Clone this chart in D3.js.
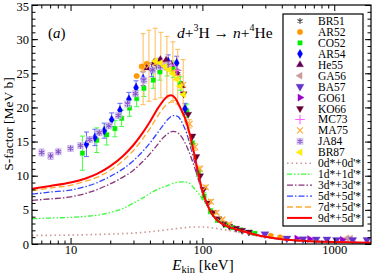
<!DOCTYPE html>
<html><head><meta charset="utf-8">
<script src="https://cdn.jsdelivr.net/npm/d3@7"></script>
<style>body{margin:0;background:#fff}svg{display:block}text{font-family:"Liberation Serif","Times New Roman",serif}</style>
</head><body><svg id="c" width="374" height="276"></svg>
<script>
// ---- data ----
const xMajor = [10, 100, 1000];
const xMinor = [6,7,8,9,20,30,40,50,60,70,80,90,200,300,400,500,600,700,800,900];
const yMajor = [0,5,10,15,20,25,30,35];

// experimental sets: [E keV, S MeV b, err]
const BR51 = [[45,26.0,0],[55,26.4,0],[65,25.3,0]];
const AR52 = [[31.7,24.6,0],[34.6,26.0,0],[37.8,26.4,0],[330,1.2,0],[388,0.98,0]];
const CO52 = [[12.3,13.3,2.5],[15.8,15.2,1.8],[18.8,16.0,1.5],[21.7,16.9,1.2],[24.4,18.4,1.2],[28,19.9,1.2],[31.7,21.3,1.2],[36,22.8,1.2],[42.4,24.0,1.2],[47.6,25.2,1.2],[54,25.8,1.2],[60,25.6,1.2],[68,23.5,1.0],[76,19.5,1.0],[84,14.8,0.8],[93,10.5,0.6],[103,7.0,0.5],[115,4.8,0.4],[130,3.5,0.3],[150,2.8,0.3],[170,2.4,0.2],[195,2.05,0.2],[230,1.7,0.2],[250,1.55,0.2]];
const AR54 = [[13.2,14.6,1.8],[15.3,15.6,1.2],[18.0,16.6,1.1],[20.5,18.2,1.0],[23.7,19.6,1.0],[27.7,21.2,1.0],[31.4,22.9,1.0],[35.5,24.2,1.0],[41.2,25.5,1.0],[47.6,26.2,1.0],[55,26.7,1.0],[63.8,26.5,1.0],[73.8,19.8,0.8]];
const He55 = [[38,25.8,0],[43,26.6,0],[48,27.0,0],[53,26.9,0],[58,26.3,0],[64,25.0,0],[70,23.2,0]];
const GA56 = [[1250,0.85,0],[1330,0.8,0]];
const BA57 = [[298,1.46,0],[437,0.83,0],[580,0.73,0],[730,0.7,0],[880,0.7,0],[1040,0.62,0],[1380,0.6,0],[1770,0.6,0]];
const GO61 = [[520,0.8,0],[650,0.72,0],[1150,0.62,0]];
const KO66 = [[72,22.0,0],[78,19.0,0],[84,15.8,0],[90,12.8,0],[96,10.0,0],[102,8.0,0],[110,6.0,0],[120,4.6,0],[132,3.7,0],[145,3.0,0],[160,2.6,0],[180,2.3,0],[200,2.0,0],[225,1.75,0]];
const MC73 = [[50,26.4,0],[57,26.2,0],[64,25.4,0]];
const MA75 = [[35.5,25.6,5.2],[39.3,26.1,5.2],[43.8,26.4,5.2],[48.4,26.2,4.8],[53.8,25.9,4.5],[59.7,25.3,4.3],[65.0,24.5,4.0],[71.5,23.3,3.7],[80,17.6,0.6],[88,14.2,0.5],[96,11.0,0.4],[106,8.3,0.3],[116,6.2,0.3],[128,4.6,0.2],[142,3.6,0.2],[160,2.9,0.2]];
const JA84 = [[6.04,13.4,0.5],[7.06,12.9,0.5],[8.07,13.5,0.4],[10.0,14.0,0.4],[11.9,14.4,0.4],[14.0,15.3,0.4],[16.5,16.3,0.4],[19.5,17.3,0.4],[23,18.8,0.4],[27,20.5,0.4],[31,22.0,0.4],[36,24.0,0.4],[42,25.5,0.4],[48,26.0,0.4],[55,26.2,0.4]];
const BR87 = [[44,26.8,0],[48,26.5,0],[52,26.0,0],[56,25.5,0],[60,24.9,0],[64,24.1,0],[68,23.1,0],[72,21.9,0]];

// theory curves: [E, S]
const c00 = [[5.1,1.25],[7,1.27],[10,1.3],[15,1.38],[20,1.45],[30,1.6],[40,1.8],[50,2.0],[60,2.2],[70,2.35],[85,2.5],[100,2.5],[120,2.35],[145,2.1],[180,1.8],[220,1.45],[260,1.15],[300,1.0],[400,0.7],[600,0.45],[1000,0.3],[1900,0.18]];
const c11 = [[5.1,3.7],[7,3.8],[10,3.9],[14,4.1],[17,4.3],[20,4.6],[25,5.2],[30,6.0],[35,6.7],[40,7.4],[47,8.1],[55,8.6],[63,9.0],[71,9.1],[78,9.0],[86,8.2],[95,7.2],[105,6.0],[114,5.0],[125,4.0],[135,3.4],[150,2.85],[170,2.45],[200,1.95],[250,1.4],[300,1.05],[400,0.7],[600,0.45],[1000,0.3],[1900,0.18]];
const c33 = [[5.1,6.4],[7,6.6],[10,6.9],[13,7.4],[17,8.2],[20,8.8],[25,9.8],[30,10.8],[35,12.0],[40,13.2],[45,14.4],[50,15.5],[55,16.2],[60,16.5],[65,16.3],[70,15.6],[76,14.3],[82,12.7],[88,11.0],[94,9.2],[100,7.5],[110,5.5],[120,4.2],[140,3.0],[165,2.4],[200,1.9],[250,1.4],[300,1.05],[400,0.7],[600,0.45],[1000,0.3],[1900,0.18]];
const c55 = [[5.1,7.3],[7,7.6],[10,7.9],[13,8.4],[16,9.0],[20,9.9],[25,11.0],[30,12.2],[35,13.5],[40,14.8],[45,16.1],[50,17.3],[55,18.3],[60,18.8],[65,18.7],[70,17.8],[76,16.2],[82,14.0],[88,11.7],[94,9.5],[100,7.6],[110,5.5],[120,4.2],[140,3.0],[165,2.4],[200,1.9],[250,1.4],[300,1.05],[400,0.7],[600,0.45],[1000,0.3],[1900,0.18]];
const c75 = [[5.1,7.8],[7,8.2],[10,8.6],[13,9.2],[16,9.8],[20,10.8],[25,12.2],[30,13.7],[35,15.3],[40,16.9],[45,18.5],[50,19.8],[55,20.6],[60,20.8],[65,20.5],[70,19.2],[76,17.2],[82,14.6],[88,12.0],[94,9.6],[100,7.6],[110,5.5],[120,4.2],[140,3.0],[165,2.4],[200,1.9],[250,1.4],[300,1.05],[400,0.7],[600,0.45],[1000,0.3],[1900,0.18]];
const c95 = [[5.1,8.1],[7,8.5],[10,9.0],[13,9.6],[16,10.3],[20,11.4],[25,12.9],[30,14.5],[35,16.2],[40,17.9],[45,19.6],[50,20.9],[55,21.7],[58,21.8],[62,21.4],[67,20.2],[74,18.4],[80,16.2],[86,13.5],[92,10.8],[100,7.8],[110,5.6],[120,4.2],[140,3.0],[165,2.4],[200,1.9],[250,1.4],[300,1.05],[400,0.7],[600,0.45],[1000,0.3],[1900,0.18]];

// ---- chart ----
const svg = d3.select("#c");
const L=32, R=371, T=5, B=244;
const x = d3.scaleLog().domain([5.1,1900]).range([L,R]);
const y = d3.scaleLinear().domain([0,35]).range([B,T]);

svg.append("defs").append("clipPath").attr("id","clip").append("rect")
  .attr("x",L).attr("y",T).attr("width",R-L).attr("height",B-T);
const plot = svg.append("g").attr("clip-path","url(#clip)");

const sets = [
 {name:"BR51",d:BR51,type:d3.symbolAsterisk,color:"#444",fill:false,size:24,rot:0},
 {name:"AR52",d:AR52,type:d3.symbolCircle,color:"#ff9900",fill:true,size:24,rot:0},
 {name:"CO52",d:CO52,type:d3.symbolSquare,color:"#00ee00",fill:true,size:20,rot:0,ec:"#44ff44"},
 {name:"AR54",d:AR54,type:d3.symbolDiamond,color:"#0000ff",fill:true,size:24,rot:0,ec:"#6666ff"},
 {name:"He55",d:He55,type:d3.symbolTriangle,color:"#660055",fill:true,size:22,rot:0},
 {name:"GA56",d:GA56,type:d3.symbolTriangle,color:"#cc9999",fill:true,size:22,rot:-90},
 {name:"BA57",d:BA57,type:d3.symbolTriangle,color:"#6633cc",fill:true,size:28,rot:180},
 {name:"GO61",d:GO61,type:d3.symbolTriangle,color:"#9900cc",fill:true,size:22,rot:90},
 {name:"KO66",d:KO66,type:d3.symbolTriangle,color:"#660033",fill:true,size:22,rot:180},
 {name:"MC73",d:MC73,type:d3.symbolPlus,color:"#ff66ff",fill:false,size:32,rot:0},
 {name:"MA75",d:MA75,type:d3.symbolTimes,color:"#ffaa33",fill:false,size:24,rot:0,ec:"#ffbb55"},
 {name:"JA84",d:JA84,type:d3.symbolAsterisk,color:"#8855cc",fill:false,size:24,rot:0,ec:"#b599e0",halo:true},
 {name:"BR87",d:BR87,type:d3.symbolTriangle,color:"#ffee00",fill:true,size:22,rot:-90}
];
const curves = [
 {name:"0d*+0d'*",d:c00,color:"#cc9999",dash:"1.5,3",w:1.6},
 {name:"1d*+1d'*",d:c11,color:"#33ff33",dash:"5,2,1.5,2,1.5,2",w:1.3},
 {name:"3d*+3d'*",d:c33,color:"#883377",dash:"6,2,1.5,2",w:1.3},
 {name:"5d*+5d'*",d:c55,color:"#3344ff",dash:"6,2,1.5,2",w:1.3},
 {name:"7d*+5d'*",d:c75,color:"#ffaa33",dash:"6,3",w:1.3},
 {name:"9d*+5d'*",d:c95,color:"#ff0000",dash:null,w:2}
];

function drawSym(g, s, px, py){
  if(s.halo) g.append("rect").attr("x",px-3.5).attr("y",py-3.5).attr("width",7).attr("height",7).attr("fill","#d4c4ee").attr("opacity",0.8);
  g.append("path").attr("d",d3.symbol().type(s.type).size(s.size)())
   .attr("transform",`translate(${px},${py}) rotate(${s.rot})`)
   .attr("fill",s.fill?s.color:"none").attr("stroke",s.color).attr("stroke-width",s.fill?0.3:1.1);
}

// error bars
sets.forEach(s=>{
  s.d.forEach(p=>{
    if(p[2]>0){
      const xx=x(p[0]), y1=y(p[1]-p[2]), y2=y(p[1]+p[2]);
      const c=s.ec||s.color;
      plot.append("line").attr("x1",xx).attr("x2",xx).attr("y1",y1).attr("y2",y2).attr("stroke",c).attr("stroke-width",1);
      [y1,y2].forEach(yy=>plot.append("line").attr("x1",xx-2.5).attr("x2",xx+2.5).attr("y1",yy).attr("y2",yy).attr("stroke",c).attr("stroke-width",1));
    }
  });
});
// markers
sets.forEach(s=>{ s.d.forEach(p=>drawSym(plot,s,x(p[0]),y(p[1]))); });

// curves
const line = d3.line().x(d=>x(d[0])).y(d=>y(d[1])).curve(d3.curveMonotoneX);
curves.forEach(c=>{
  plot.append("path").datum(c.d).attr("d",line).attr("fill","none")
   .attr("stroke",c.color).attr("stroke-width",c.w).attr("stroke-dasharray",c.dash);
});

// axes
function styleAxis(g){ g.select(".domain").remove(); g.selectAll("line").attr("stroke","#000").attr("stroke-width",1); g.selectAll("text").style("font-family","Liberation Serif").style("font-size","12.5px").attr("fill","#000"); }
svg.append("g").attr("transform",`translate(0,${B})`).call(d3.axisBottom(x).tickValues(xMajor).tickFormat(d3.format("d")).tickSize(-6).tickPadding(1)).call(styleAxis);
svg.append("g").attr("transform",`translate(0,${B})`).call(d3.axisBottom(x).tickValues(xMinor).tickFormat("").tickSize(-3.5)).call(styleAxis);
svg.append("g").attr("transform",`translate(0,${T})`).call(d3.axisTop(x).tickValues(xMajor).tickFormat("").tickSize(-6)).call(styleAxis);
svg.append("g").attr("transform",`translate(0,${T})`).call(d3.axisTop(x).tickValues(xMinor).tickFormat("").tickSize(-3.5)).call(styleAxis);
const yax = svg.append("g").attr("transform",`translate(${L},0)`).call(d3.axisLeft(y).tickValues(yMajor).tickFormat(d3.format("d")).tickSize(-6).tickPadding(3)).call(styleAxis);
yax.selectAll(".tick text").filter(d=>d===35).attr("dy","0.42em");
svg.append("g").attr("transform",`translate(${L},0)`).call(d3.axisLeft(y).tickValues(d3.range(0,36,1)).tickFormat("").tickSize(-3.5)).call(styleAxis);
svg.append("g").attr("transform",`translate(${R},0)`).call(d3.axisRight(y).tickValues(yMajor).tickFormat("").tickSize(-6)).call(styleAxis);
svg.append("g").attr("transform",`translate(${R},0)`).call(d3.axisRight(y).tickValues(d3.range(0,36,1)).tickFormat("").tickSize(-3.5)).call(styleAxis);
svg.append("rect").attr("x",L).attr("y",T).attr("width",R-L).attr("height",B-T).attr("fill","none").attr("stroke","#000").attr("stroke-width",1.2);

// labels
svg.append("text").attr("transform","translate(13,124) rotate(-90)").attr("text-anchor","middle").style("font-size","13.5px").text("S-factor [MeV b]");
const xl = svg.append("text").attr("x",203).attr("y",270).attr("text-anchor","middle").style("font-size","15px");
xl.append("tspan").style("font-style","italic").text("E");
xl.append("tspan").attr("dy",3).style("font-size","10.5px").text("kin");
xl.append("tspan").attr("dy",-3).text(" [keV]");
svg.append("text").attr("x",48).attr("y",38).style("font-size","15px").html('(<tspan font-style="italic">a</tspan>)');
const rt = svg.append("text").attr("x",177).attr("y",38).style("font-size","15.5px");
rt.append("tspan").style("font-style","italic").text("d");
rt.append("tspan").text("+");
rt.append("tspan").attr("dy",-7).style("font-size","10px").text("3");
rt.append("tspan").attr("dy",7).text("H \u2192 ");
rt.append("tspan").style("font-style","italic").text("n");
rt.append("tspan").text("+");
rt.append("tspan").attr("dy",-7).style("font-size","10px").text("4");
rt.append("tspan").attr("dy",7).text("He");

// legend
const lg = svg.append("g");
lg.append("rect").attr("x",283).attr("y",14).attr("width",80).attr("height",212).attr("fill","#fff").attr("stroke","#000").attr("stroke-width",1.2);
const all = sets.map(s=>({kind:"s",s})).concat(curves.map(c=>({kind:"c",c})));
all.forEach((e,i)=>{
  const yy = 21 + i*10.94;
  if(e.kind==="s"){ drawSym(lg,e.s,300,yy); }
  else { lg.append("line").attr("x1",287).attr("x2",312).attr("y1",yy).attr("y2",yy).attr("stroke",e.c.color).attr("stroke-width",e.c.w).attr("stroke-dasharray",e.c.dash); }
  lg.append("text").attr("x",318).attr("y",yy+4).style("font-size","11.5px").text(e.kind==="s"?e.s.name:e.c.name);
});
</script></body></html>
